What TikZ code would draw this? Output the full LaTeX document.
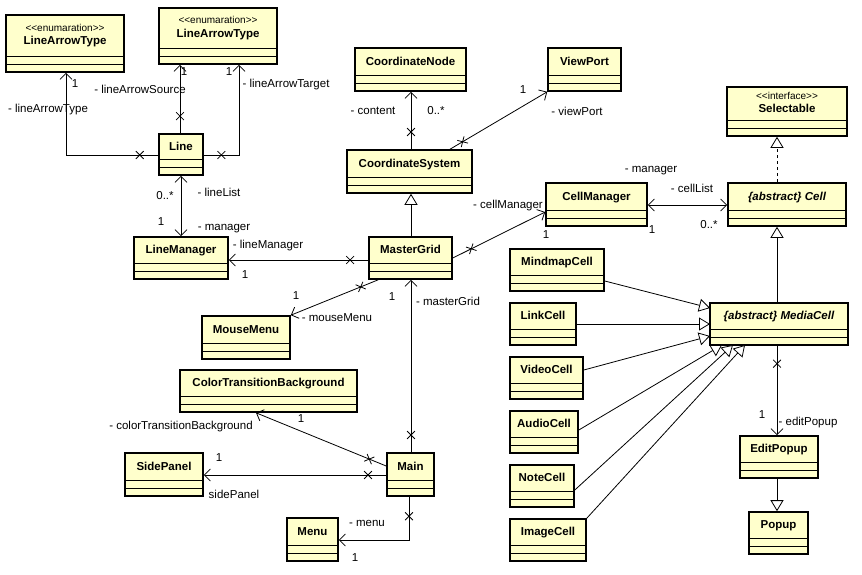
\documentclass[tikz,border=0pt]{standalone}
\usepackage{fontspec}
\setmainfont{Liberation Sans}
\usetikzlibrary{arrows.meta,shapes.misc}
\definecolor{ylw}{RGB}{255,255,204}
\newcommand\cn[1]{\raisebox{4.5pt}[0pt][0pt]{\bfseries #1}}
\newcommand\cst[2]{\raisebox{-1pt}[0pt][0pt]{\shortstack{\fontsize{10}{11}\selectfont <\kern0pt<#1>\kern0pt>\\[2pt]\bfseries #2}}}
\newcommand\umlbox[6]{\node[cls,minimum width=#4-#2,minimum height=#5-#3] (#1) at ({(#2+#4)/2},{(#3+#5)/2}) {#6};}
\begin{document}
\begin{tikzpicture}[x=1pt,y=-1pt,font=\fontsize{11.5}{13}\selectfont,line width=0.8pt,
  cls/.style={draw,line width=1.6pt,fill=ylw,inner sep=0pt,
    path picture={\draw[line width=0.9pt] ([yshift=16pt]path picture bounding box.south west) -- ([yshift=16pt]path picture bounding box.south east);
      \draw[line width=0.9pt] ([yshift=8pt]path picture bounding box.south west) -- ([yshift=8pt]path picture bounding box.south east);}},
  nav/.style={-{Straight Barb[length=6pt,width=12pt]}},
  bi/.style={{Straight Barb[length=6pt,width=12pt]}-{Straight Barb[length=6pt,width=12pt]}},
  gen/.style={-{Triangle[open,length=11pt,width=13pt,fill=white]}},
  xm/.style={cross out,draw,minimum size=7pt,inner sep=0pt,line width=0.8pt,sloped},
  lb/.style={inner sep=1pt}]
\useasboundingbox (0,0) rectangle (862,574);
\fill[white] (0,0) rectangle (862,574);
\umlbox{lat1}{6}{15}{124}{72}{\cst{enumaration}{LineArrowType}}
\umlbox{lat2}{159}{8}{277}{64}{\cst{enumaration}{LineArrowType}}
\umlbox{line}{159}{134}{203}{175}{\cn{Line}}
\umlbox{lm}{134}{237}{228}{279}{\cn{LineManager}}
\umlbox{cnode}{355}{48}{466}{91}{\cn{CoordinateNode}}
\umlbox{vp}{548}{48}{621}{91}{\cn{ViewPort}}
\umlbox{cs}{347}{150}{472}{193}{\cn{CoordinateSystem}}
\umlbox{sel}{727}{87}{847}{136}{\cst{interface}{Selectable}}
\umlbox{cm}{546}{183}{647}{226}{\cn{CellManager}}
\umlbox{cell}{728}{183}{846}{226}{\cn{\itshape\{abstract\} Cell}}
\umlbox{mg}{369}{237}{452}{279}{\cn{MasterGrid}}
\umlbox{mind}{510}{249}{604}{291}{\cn{MindmapCell}}
\umlbox{link}{510}{303}{576}{345}{\cn{LinkCell}}
\umlbox{video}{510}{357}{583}{399}{\cn{VideoCell}}
\umlbox{audio}{510}{411}{578}{453}{\cn{AudioCell}}
\umlbox{note}{510}{465}{574}{507}{\cn{NoteCell}}
\umlbox{image}{510}{519}{586}{561}{\cn{ImageCell}}
\umlbox{media}{710}{303}{848}{345}{\cn{\itshape\{abstract\} MediaCell}}
\umlbox{edit}{740}{436}{818}{478}{\cn{EditPopup}}
\umlbox{popup}{749}{512}{808}{554}{\cn{Popup}}
\umlbox{mm}{202}{316}{290}{359}{\cn{MouseMenu}}
\umlbox{ctb}{180}{370}{357}{412}{\cn{ColorTransitionBackground}}
\umlbox{side}{125}{453}{203}{496}{\cn{SidePanel}}
\umlbox{main}{387}{453}{434}{496}{\cn{Main}}
\umlbox{menu}{287}{518}{338}{561}{\cn{Menu}}
% connectors
\draw[nav] (line.west |- 0,155) -- (66,155) node[xm,pos=0.2]{} -- (lat1.south -| 66,0);
\draw[nav] (line.north -| 180,0) -- (lat2.south -| 180,0) node[xm,pos=0.25]{};
\draw[nav] (line.east |- 0,155) -- (239,155) node[xm,pos=0.5]{} -- (lat2.south -| 239,0);
\draw[bi] (line.south -| 181,0) -- (lm.north -| 181,0);
\draw[nav] (mg.west |- 0,260) -- (lm.east |- 0,260) node[xm,pos=0.13]{};
\path (mg.south west) ++(10,0) coordinate (mgmm);
\draw[nav] (mgmm) -- (mm.north east) node[xm,pos=0.2]{};
\draw[nav] (mg.east) -- (cm.west |- 0,212) node[xm,pos=0.2]{};
\draw[bi] (cm.east |- 0,205) -- (cell.west |- 0,205);
\draw[nav] (cs.north -| 411,0) -- (cnode.south -| 411,0) node[xm,pos=0.3]{};
\draw[nav] (cs.north -| 450,0) -- (vp.south west) node[xm,pos=0.13]{};
\draw[gen] (mg.north -| 411,0) -- (cs.south -| 411,0);
\draw[gen,dashed] (cell.north -| 777,0) -- (sel.south -| 777,0);
\draw[gen] (media.north -| 777,0) -- (cell.south -| 777,0);
\coordinate (m1) at (710,308); \coordinate (m2) at (710,324); \coordinate (m3) at (710,336);
\coordinate (m4) at (722,345); \coordinate (m5) at (733,345); \coordinate (m6) at (745,345);
\draw[gen] (mind.east |- 0,281) -- (m1);
\draw[gen] (link.east |- 0,324) -- (m2);
\draw[gen] (video.east |- 0,370) -- (m3);
\draw[gen] (audio.east |- 0,430) -- (m4);
\draw[gen] (note.east |- 0,490) -- (m5);
\draw[gen] (image.north east) -- (m6);
\draw[nav] (media.south -| 777,0) -- (edit.north -| 777,0) node[xm,pos=0.2]{};
\draw[gen] (edit.south -| 777,0) -- (popup.north -| 777,0);
\draw[nav] (main.north -| 411,0) -- (mg.south -| 411,0) node[xm,pos=0.1]{};
\draw[nav] (main.west |- 0,466) -- (ctb.south -| 256,0) node[xm,pos=0.13]{};
\draw[nav] (main.west |- 0,475) -- (side.east |- 0,475) node[xm,pos=0.1]{};
\draw[nav] (main.south -| 409,0) -- (409,540) node[xm,pos=0.45]{} -- (menu.east |- 0,540);
% labels
\node[lb] (t1) at (75,84) {1};
\node[lb] (t2) at (48,110) {- lineArrowType};
\node[lb] (t3) at (140,89) {- lineArrowSource};
\node[lb] (t4) at (184,72) {1};
\node[lb] (t5) at (229,72) {1};
\node[lb] (t6) at (286,85) {- lineArrowTarget};
\node[lb] (t7) at (165,196) {0..*};
\node[lb] (t8) at (219,192) {- lineList};
\node[lb] (t9) at (161,222) {1};
\node[lb] (t10) at (224,229) {- manager};
\node[lb] (t11) at (268,246) {- lineManager};
\node[lb] (t12) at (245,275) {1};
\node[lb] (t13) at (296,296) {1};
\node[lb] (t14) at (337,318) {- mouseMenu};
\node[lb] (t15) at (508,206) {- cellManager};
\node[lb] (t16) at (546,235) {1};
\node[lb] (t17) at (651,171) {- manager};
\node[lb] (t18) at (692,188) {- cellList};
\node[lb] (t19) at (652,230) {1};
\node[lb] (t20) at (709,225) {0..*};
\node[lb] (t21) at (373,111) {- content};
\node[lb] (t22) at (436,111) {0..*};
\node[lb] (t23) at (523,90) {1};
\node[lb] (t24) at (577,111) {- viewPort};
\node[lb] (t25) at (762,415) {1};
\node[lb] (t26) at (808,423) {- editPopup};
\node[lb] (t27) at (392,297) {1};
\node[lb] (t28) at (448,301) {- masterGrid};
\node[lb] (t29) at (301,419) {1};
\node[lb] (t30) at (181,427) {- colorTransitionBackground};
\node[lb] (t31) at (219,458) {1};
\node[lb] (t32) at (234,494) {sidePanel};
\node[lb] (t33) at (367,523) {- menu};
\node[lb] (t34) at (355,558) {1};
\end{tikzpicture}
\end{document}
